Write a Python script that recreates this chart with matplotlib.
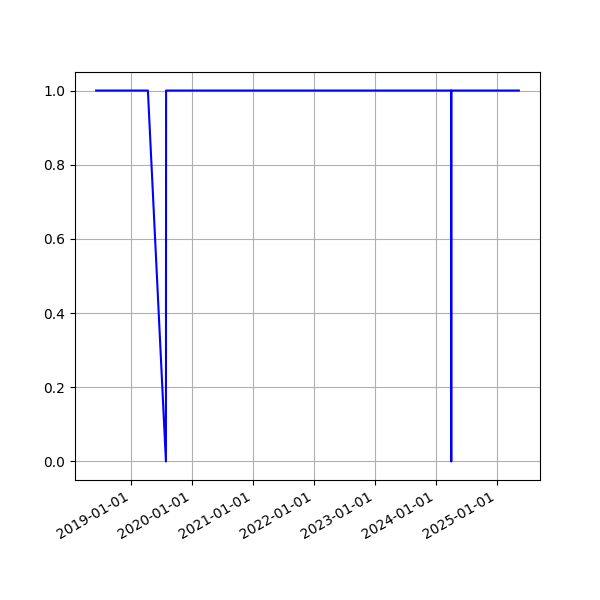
import matplotlib
matplotlib.use("Agg")
import matplotlib.pyplot as plt
import matplotlib.dates as mdates
import pandas as pd

dates = ["2018-06-06", "2019-04-12", "2019-07-29", "2019-07-30",
         "2024-04-01", "2024-04-02", "2024-04-03", "2025-05-12"]
values = [1, 1, 0, 1, 1, 0, 1, 1]

x = pd.to_datetime(dates)

fig, ax = plt.subplots(figsize=(6, 6), dpi=100)
ax.plot(x, values, color="blue")
ax.grid(True)
ax.xaxis.set_major_locator(mdates.YearLocator())
ax.xaxis.set_major_formatter(mdates.DateFormatter("%Y-%m-%d"))
fig.autofmt_xdate()
fig.savefig("out.png")
